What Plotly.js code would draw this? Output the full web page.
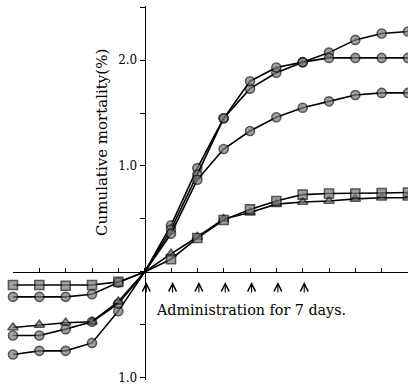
<!DOCTYPE html>
<html>
<head>
<meta charset="utf-8">
<script src="https://cdn.plot.ly/plotly-3.0.1.min.js"></script>
<style>html,body{margin:0;padding:0;background:#fff;}#chart{width:408px;height:386px;}</style>
</head>
<body>
<div id="chart"></div>
<script>
// Days relative to start of administration (negative = before, plotted downward)
const days = [-5,-4,-3,-2,-1,0,1,2,3,4,5,6,7,8,9,10];

// Cumulative mortality (%) per group
const seriesA = [-0.78,-0.745,-0.745,-0.67,-0.37,0,0.44,0.98,1.45,1.73,1.88,1.98,2.07,2.19,2.25,2.27];
const seriesB = [-0.235,-0.235,-0.235,-0.21,-0.10,0,0.40,0.92,1.45,1.80,1.93,1.98,2.02,2.02,2.02,2.02];
const seriesC = [-0.60,-0.60,-0.54,-0.47,-0.30,0,0.36,0.87,1.16,1.33,1.46,1.55,1.61,1.67,1.69,1.69];
const seriesD = [-0.123,-0.123,-0.13,-0.123,-0.094,0,0.12,0.32,0.49,0.59,0.67,0.73,0.74,0.74,0.745,0.75];
const seriesE = [-0.525,-0.50,-0.48,-0.47,-0.28,0,0.17,0.33,0.50,0.56,0.64,0.66,0.67,0.69,0.70,0.70];

const yTickVals = [-1,-0.5,0,0.5,1,1.5,2,2.5];
const yTickText = ['1.0','','','','1.0','','2.0',''];
const arrowDays = [0,1,2,3,4,5,6];
const yTitle = 'Cumulative mortality(%)';
const adminText = 'Administration for 7 days.';

const xRange = [-5, 10];
const yRange = [-1.02, 2.51];

const fontFam = 'DejaVu Serif, Liberation Serif, serif';

function mk(y, symbol){
  return {
    x: days, y: y, type: 'scatter', mode: 'lines+markers',
    line: {color: '#000', width: 1.6},
    marker: {symbol: symbol, size: days.map(d => d === 0 ? 0 : 9), color: '#7a7a7a',
             line: {color: '#111', width: 1.6}},
    cliponaxis: false, hoverinfo: 'skip'
  };
}

const traces = [
  mk(seriesA, 'circle'),
  mk(seriesB, 'circle'),
  mk(seriesC, 'circle'),
  mk(seriesE, 'triangle-up'),
  mk(seriesD, 'square')
];

const annotations = [
  {x: -1.65, y: 1.22, xref: 'x', yref: 'y', text: yTitle, textangle: -90, showarrow: false,
   font: {family: fontFam, size: 15, color: '#000'}},
  {x: 0.35, y: -0.36, xref: 'x', yref: 'y', text: adminText, xanchor: 'left', showarrow: false,
   font: {family: fontFam, size: 14.3, color: '#000'}}
];
arrowDays.forEach(d => annotations.push({
  x: d + 0.06, y: -0.095, xref: 'x', yref: 'y', text: '', showarrow: true,
  ax: 0, ay: 12, arrowhead: 5, arrowsize: 1.4, arrowwidth: 1.1, arrowcolor: '#000', standoff: 0
}));

const layout = {
  width: 408, height: 386,
  margin: {l: 13, r: 0, t: 6, b: 6, pad: 0},
  paper_bgcolor: '#fff', plot_bgcolor: '#fff',
  showlegend: false,
  xaxis: {
    range: xRange, showgrid: false, zeroline: false, showline: true,
    linecolor: '#000', linewidth: 1.5, ticks: 'inside', ticklen: 4, tickcolor: '#000',
    tick0: 0, dtick: 1, showticklabels: false,
    anchor: 'free', position: (0 - yRange[0]) / (yRange[1] - yRange[0])
  },
  yaxis: {
    range: yRange, showgrid: false, zeroline: false, showline: true,
    linecolor: '#000', linewidth: 1.5, ticks: 'outside', ticklen: 5, tickcolor: '#000',
    tickvals: yTickVals, ticktext: yTickText,
    tickfont: {family: fontFam, size: 12, color: '#000'},
    anchor: 'free', position: (0 - xRange[0]) / (xRange[1] - xRange[0])
  },
  annotations: annotations
};

Plotly.newPlot('chart', traces, layout, {displayModeBar: false, staticPlot: true});
</script>
</body>
</html>
